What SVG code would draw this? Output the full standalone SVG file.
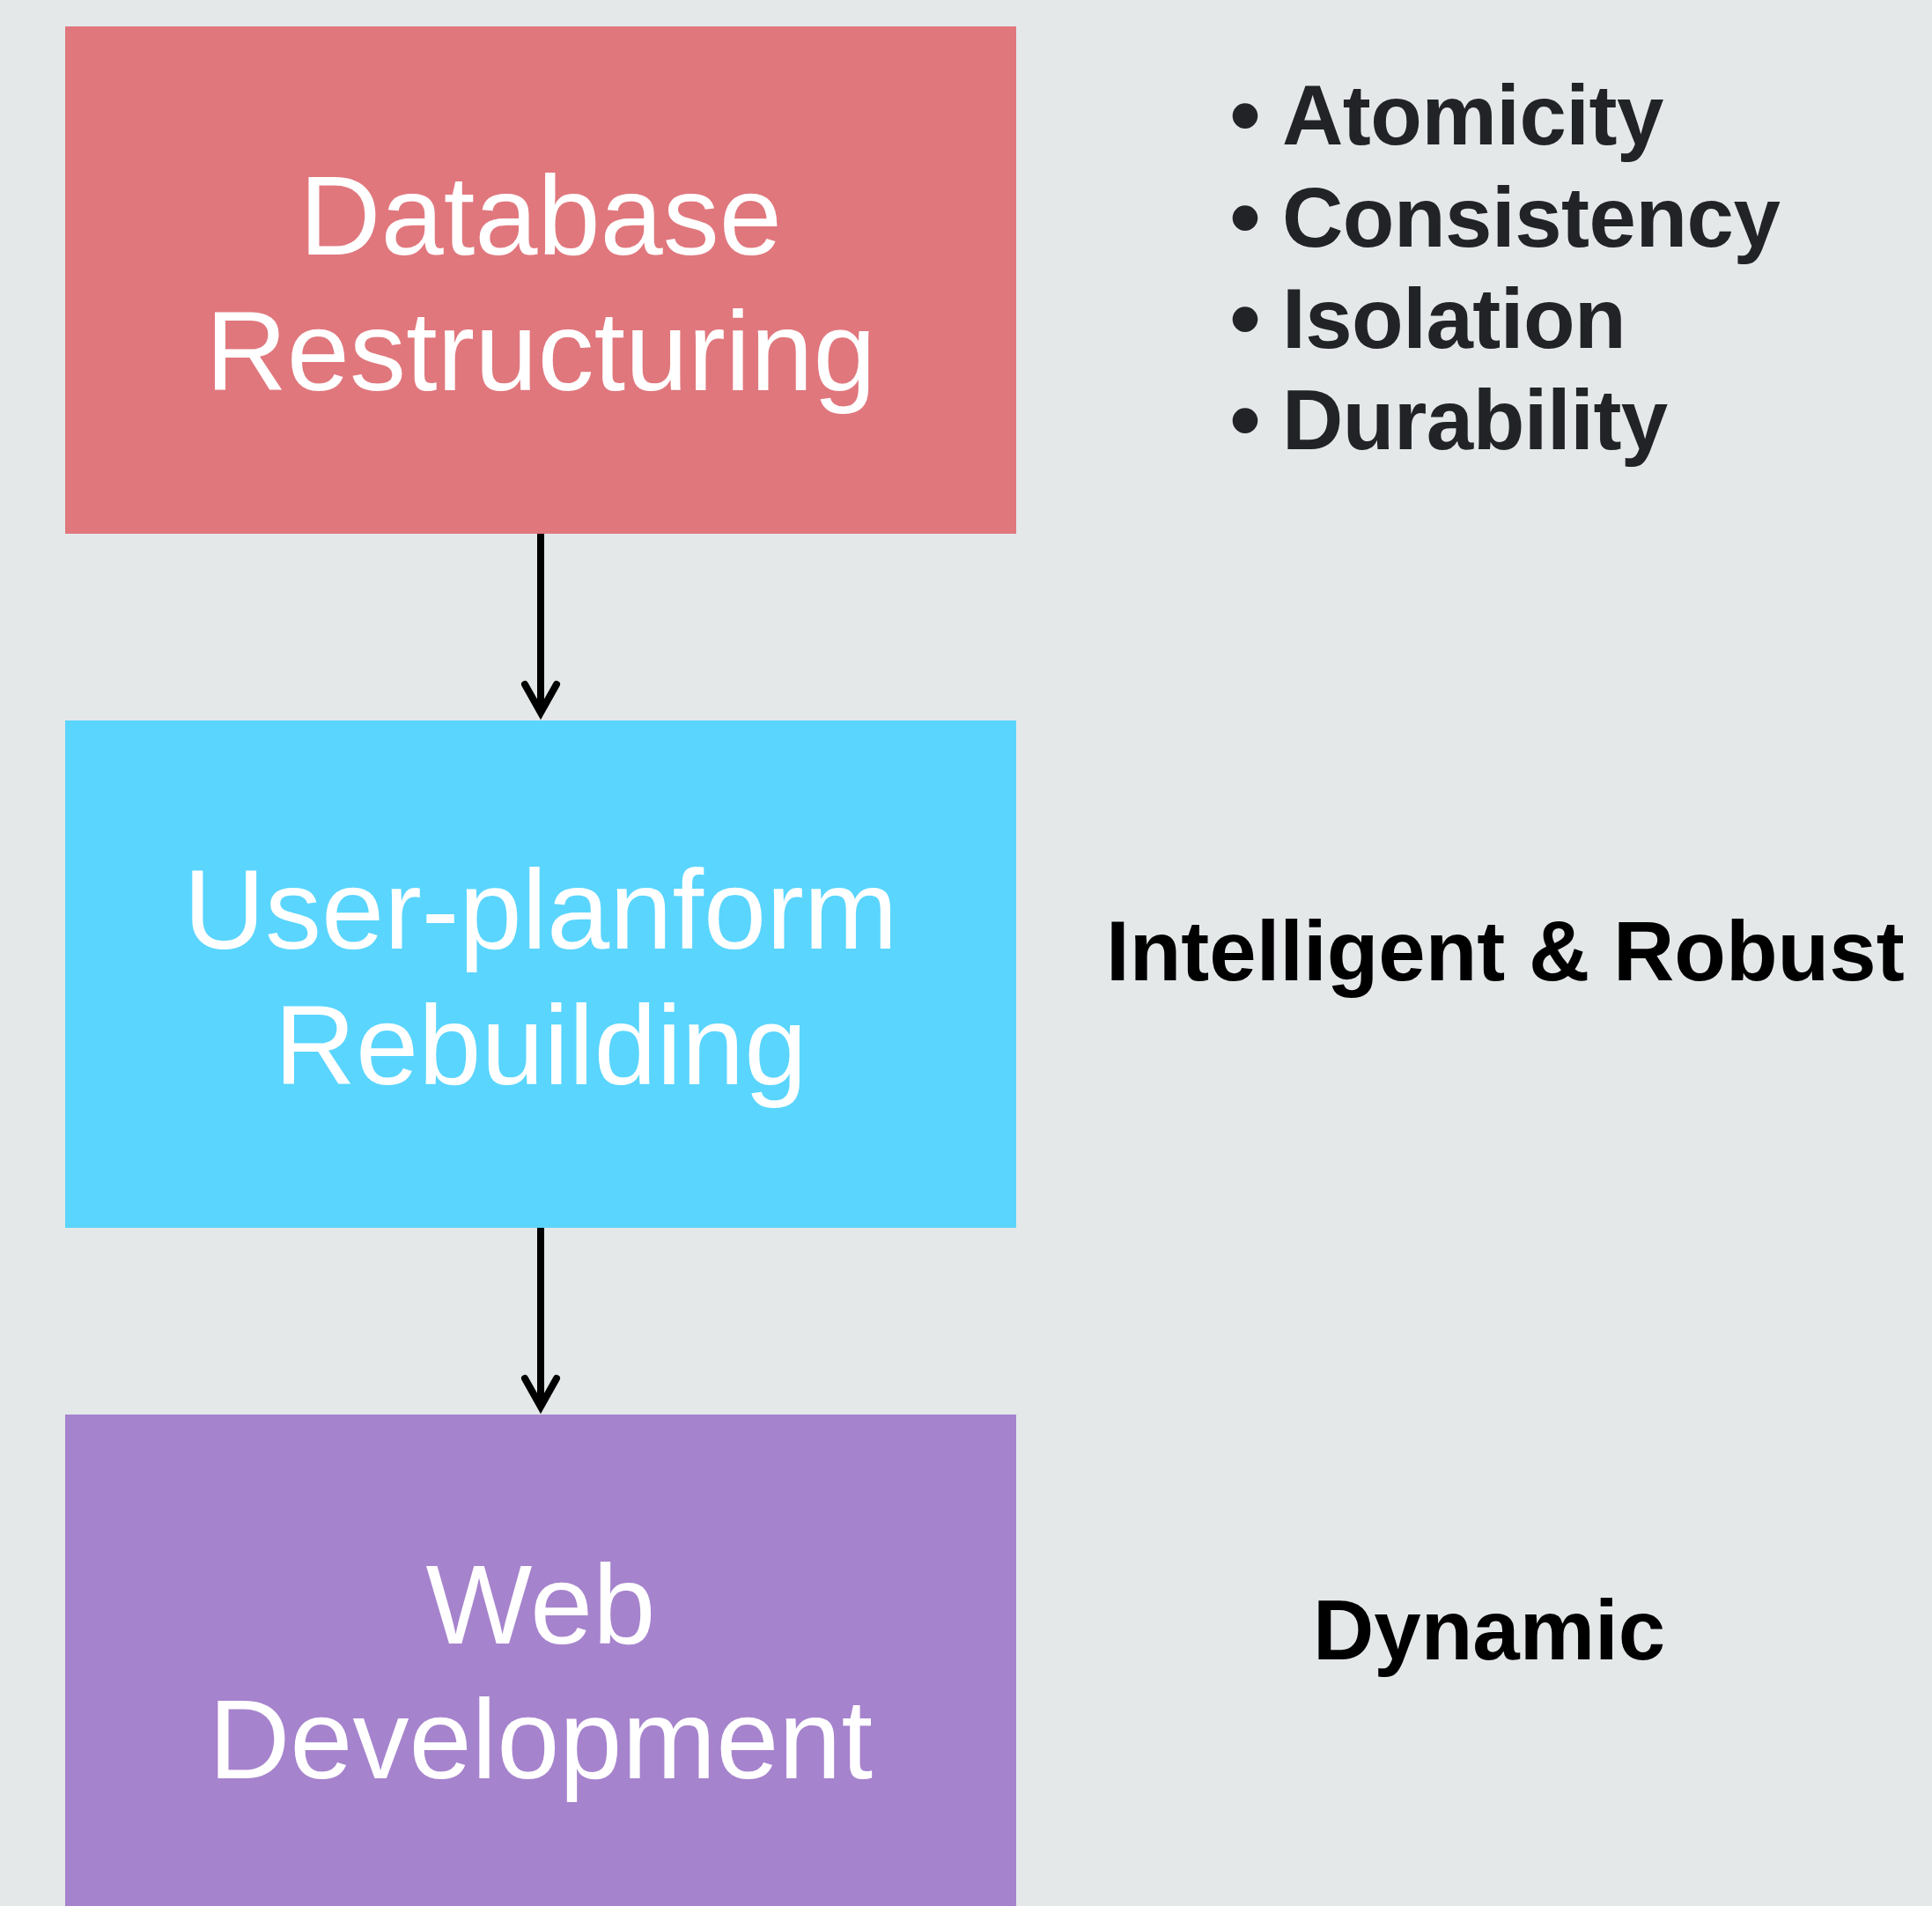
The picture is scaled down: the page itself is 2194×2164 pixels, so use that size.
<svg xmlns="http://www.w3.org/2000/svg" width="2194" height="2164" viewBox="0 0 2194 2164">
  <style>
    .box-label { font-family: "Liberation Sans", Arial, sans-serif; font-size: 128px; fill: #ffffff; text-anchor: middle; }
    .side { font-family: "Liberation Sans", Arial, sans-serif; font-size: 96px; font-weight: bold; fill: #000000; }
    .acid { font-family: "Liberation Sans", Arial, sans-serif; font-size: 96px; font-weight: bold; fill: #222326; letter-spacing: -0.5px; }
    .bullet { font-family: "Liberation Sans", Arial, sans-serif; font-size: 100px; font-weight: bold; fill: #222326; text-anchor: middle; }
    .conn { stroke: #000000; stroke-width: 8; fill: none; }
  </style>
  <defs>
    <marker id="chevron" markerUnits="userSpaceOnUse" viewBox="-50 -30 60 60" markerWidth="60" markerHeight="60" refX="0" refY="0" orient="auto" overflow="visible">
      <path d="M -32 -18 L 0 0 L -32 18" fill="none" stroke="#000000" stroke-width="8" stroke-linecap="round" stroke-linejoin="miter"/>
    </marker>
  </defs>
  <rect x="0" y="0" width="2194" height="2164" fill="#e4e8e9"/>

  <g id="node-database">
    <rect x="74" y="30" width="1080" height="576" fill="#e0777d"/>
    <text class="box-label" x="614" y="289">Database</text>
    <text class="box-label" x="614" y="443">Restructuring</text>
  </g>

  <g id="node-user-platform">
    <rect x="74" y="818" width="1080" height="576" fill="#5ad5fe"/>
    <text class="box-label" x="614" y="1077">User-planform</text>
    <text class="box-label" x="614" y="1231">Rebuilding</text>
  </g>

  <g id="node-web">
    <rect x="74" y="1606" width="1080" height="580" fill="#a683cd"/>
    <text class="box-label" x="614" y="1866">Web</text>
    <text class="box-label" x="614" y="2019">Development</text>
  </g>

  <g id="note-acid">
    <text class="bullet" x="1414" y="165">•</text>
    <text class="acid" x="1456" y="164">Atomicity</text>
    <text class="bullet" x="1414" y="281">•</text>
    <text class="acid" x="1456" y="280">Consistency</text>
    <text class="bullet" x="1414" y="396">•</text>
    <text class="acid" x="1456" y="395">Isolation</text>
    <text class="bullet" x="1414" y="511">•</text>
    <text class="acid" x="1456" y="510">Durability</text>
  </g>

  <g id="note-intelligent">
    <text class="side" x="1256" y="1113">Intelligent &amp; Robust</text>
  </g>

  <g id="note-dynamic">
    <text class="side" x="1491" y="1884">Dynamic</text>
  </g>

  <g id="connectors">
    <line class="conn" x1="614" y1="606" x2="614" y2="809" marker-end="url(#chevron)"/>
    <line class="conn" x1="614" y1="1394" x2="614" y2="1597" marker-end="url(#chevron)"/>
  </g>
</svg>
